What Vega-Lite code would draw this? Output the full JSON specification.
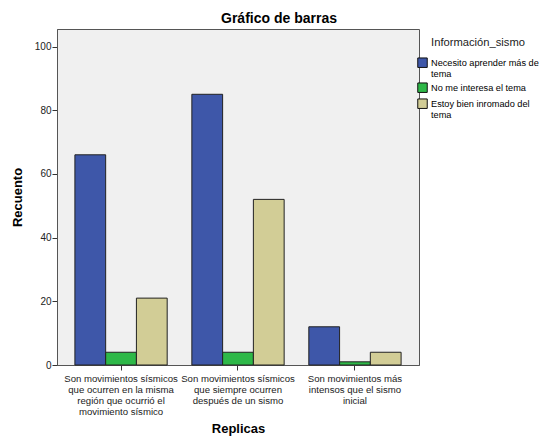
{
  "$schema": "https://vega.github.io/schema/vega-lite/v6.json",
  "width": 362,
  "height": 336,
  "autosize": {"type": "none"},
  "padding": {"left": 57, "top": 29, "right": 126, "bottom": 71},
  "background": "white",
  "title": {"text": "Gráfico de barras", "anchor": "middle", "dx": 41, "offset": 3, "font": "Liberation Sans", "fontSize": 14, "fontWeight": "bold", "color": "#000"},
  "config": {
    "view": {"fill": "#f0f0f0", "stroke": "#555555", "strokeWidth": 1},
    "font": "Liberation Sans"
  },
  "data": {
    "values": [
      {"replica": "Son movimientos sísmicos que ocurren en la misma región que ocurrió el movimiento sísmico", "info": "Necesito aprender más de tema", "recuento": 66},
      {"replica": "Son movimientos sísmicos que ocurren en la misma región que ocurrió el movimiento sísmico", "info": "No me interesa el tema", "recuento": 4},
      {"replica": "Son movimientos sísmicos que ocurren en la misma región que ocurrió el movimiento sísmico", "info": "Estoy bien inromado del tema", "recuento": 21},
      {"replica": "Son movimientos sísmicos que siempre ocurren después de un sismo", "info": "Necesito aprender más de tema", "recuento": 85},
      {"replica": "Son movimientos sísmicos que siempre ocurren después de un sismo", "info": "No me interesa el tema", "recuento": 4},
      {"replica": "Son movimientos sísmicos que siempre ocurren después de un sismo", "info": "Estoy bien inromado del tema", "recuento": 52},
      {"replica": "Son movimientos más intensos que el sismo inicial", "info": "Necesito aprender más de tema", "recuento": 12},
      {"replica": "Son movimientos más intensos que el sismo inicial", "info": "No me interesa el tema", "recuento": 1},
      {"replica": "Son movimientos más intensos que el sismo inicial", "info": "Estoy bien inromado del tema", "recuento": 4}
    ]
  },
  "mark": {"type": "bar", "stroke": "#222222", "strokeWidth": 1},
  "encoding": {
    "x": {
      "field": "replica",
      "type": "nominal",
      "sort": null,
      "scale": {"paddingInner": 0.211, "paddingOuter": 0.153},
      "axis": {
        "title": "Replicas",
        "titleFont": "Liberation Sans",
        "titleFontSize": 13,
        "titleFontWeight": "bold",
        "titleColor": "#000",
        "titlePadding": 7,
        "labelAngle": 0,
        "labelFontSize": 9.6,
        "labelLineHeight": 11,
        "labelColor": "#222",
        "labelPadding": 3,
        "labelLimit": 300,
        "labelExpr": "datum.label == 'Son movimientos sísmicos que ocurren en la misma región que ocurrió el movimiento sísmico' ? ['Son movimientos sísmicos', 'que ocurren en la misma', 'región que ocurrió el', 'movimiento sísmico'] : datum.label == 'Son movimientos sísmicos que siempre ocurren después de un sismo' ? ['Son movimientos sísmicos', 'que siempre ocurren', 'después de un sismo'] : ['Son movimientos más', 'intensos que el sismo', 'inicial']",
        "tickSize": 5,
        "tickColor": "#333",
        "domainColor": "#555"
      }
    },
    "xOffset": {
      "field": "info",
      "sort": ["Necesito aprender más de tema", "No me interesa el tema", "Estoy bien inromado del tema"],
      "scale": {"paddingInner": 0, "paddingOuter": 0}
    },
    "y": {
      "field": "recuento",
      "type": "quantitative",
      "scale": {"domain": [0, 105.5], "nice": false, "zero": true},
      "axis": {
        "title": "Recuento",
        "titleFont": "Liberation Sans",
        "titleFontSize": 13,
        "titleFontWeight": "bold",
        "titleColor": "#000",
        "titlePadding": 10,
        "values": [0, 20, 40, 60, 80, 100],
        "grid": false,
        "labelFontSize": 10,
        "labelColor": "#222",
        "labelPadding": 1,
        "tickSize": 5,
        "tickColor": "#333",
        "domainColor": "#555"
      }
    },
    "color": {
      "field": "info",
      "type": "nominal",
      "sort": ["Necesito aprender más de tema", "No me interesa el tema", "Estoy bien inromado del tema"],
      "scale": {"range": ["#3e57a9", "#2eb848", "#d2cd96"]},
      "legend": {
        "title": "Información_sismo",
        "orient": "none",
        "legendX": 360,
        "legendY": 8,
        "titleFont": "Liberation Sans",
        "titleFontSize": 11.2,
        "titleFontWeight": "normal",
        "titleColor": "#222",
        "titleAnchor": "middle",
        "titlePadding": 9,
        "symbolType": "square",
        "symbolSize": 90,
        "symbolStrokeColor": "#111",
        "symbolStrokeWidth": 1,
        "symbolOpacity": 1,
        "labelFontSize": 9.2,
        "labelLineHeight": 9,
        "labelColor": "#000",
        "labelOffset": 3,
        "labelLimit": 200,
        "rowPadding": 1,
        "labelExpr": "datum.label == 'Necesito aprender más de tema' ? ['Necesito aprender más de', 'tema'] : datum.label == 'Estoy bien inromado del tema' ? ['Estoy bien inromado del', 'tema'] : datum.label"
      }
    }
  }
}
